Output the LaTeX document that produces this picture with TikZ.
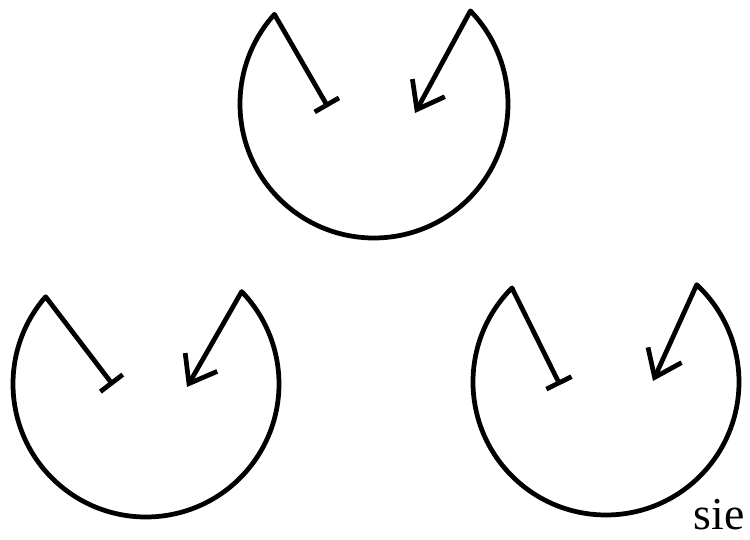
\documentclass[tikz,border=0pt]{standalone}
\usepackage{fontspec}
\setmainfont{Liberation Serif}
\usetikzlibrary{calc,arrows.meta}

\begin{document}
\begin{tikzpicture}[line width=2.7pt, line cap=round, line join=round,
    cellpath/.style={{Bar[width=16pt]}-{Straight Barb[length=14pt,width=21pt]}}]
        % --- 1. Parameters ---
        \def\rad{2.68}
        \def\radB{2.66}
        \useasboundingbox (0,0) rectangle (15,10.8);
        % --- 2. Top cell ---
        \coordinate (topC) at (7.48,8.72);
        \coordinate (topL) at ($(topC)+(138:\rad)$);
        \coordinate (topBar) at ($(topC)+(-0.92,-0.06)$);
        \coordinate (topArr) at ($(topC)+(0.82,-0.18)$);
        \draw[cellpath] (topBar) -- (topL) arc[start angle=138, end angle=404, radius=\rad] -- (topArr);
        % --- 3. Bottom left cell ---
        \coordinate (leftC) at (2.92,3.12);
        \coordinate (leftL) at ($(leftC)+(139:\radB)$);
        \coordinate (leftBar) at ($(leftC)+(-0.66,-0.02)$);
        \coordinate (leftArr) at ($(leftC)+(0.82,-0.06)$);
        \draw[cellpath] (leftBar) -- (leftL) arc[start angle=139, end angle=404, radius=\radB] -- (leftArr);
        % --- 4. Bottom right cell ---
        \coordinate (rightC) at (12.12,3.16);
        \coordinate (rightL) at ($(rightC)+(135:\radB)$);
        \coordinate (rightBar) at ($(rightC)+(-0.92,-0.06)$);
        \coordinate (rightArr) at ($(rightC)+(0.94,0.02)$);
        \draw[cellpath] (rightBar) -- (rightL) arc[start angle=135, end angle=407, radius=\radB] -- (rightArr);
        % --- 5. Label ---
        \node[anchor=base east, inner sep=0pt, font=\fontsize{26}{30}\selectfont] (sie) at (14.94,0.2) {sie};
    \end{tikzpicture}
\end{document}
